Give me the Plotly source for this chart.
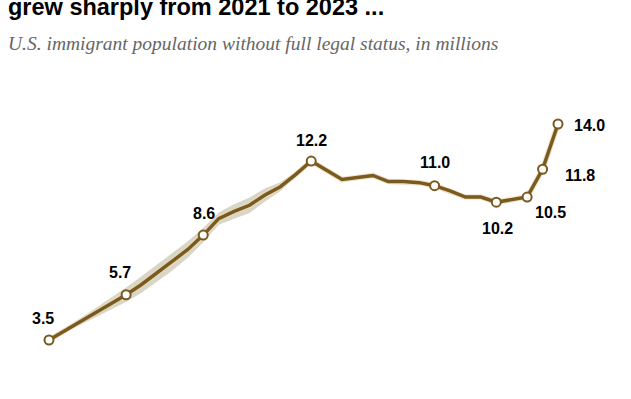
import plotly.graph_objects as go

years = [1990, 1995, 1996, 1997, 1998, 1999, 2000, 2001, 2002, 2003, 2004, 2005, 2006, 2007,
         2008, 2009, 2010, 2011, 2012, 2013, 2014, 2015, 2016, 2017, 2018, 2019, 2021, 2022, 2023]
values = [3.5, 5.7, 6.2, 6.75, 7.3, 7.9, 8.6, 9.4, 9.75, 10.05, 10.55, 10.95, 11.55, 12.2,
          11.75, 11.3, 11.4, 11.5, 11.2, 11.2, 11.15, 11.0, 10.75, 10.45, 10.45, 10.2, 10.45, 11.8, 14.0]
band_half = [0.03, 0.35, 0.4, 0.42, 0.42, 0.4, 0.35, 0.3, 0.35, 0.38, 0.32, 0.22, 0.1, 0.03,
             0.03, 0.03, 0.03, 0.03, 0.03, 0.03, 0.03, 0.03, 0.03, 0.03, 0.03, 0.03, 0.03, 0.03, 0.03]

label_years = [1990, 1995, 2000, 2007, 2015, 2019, 2021, 2022, 2023]
label_values = [3.5, 5.7, 8.6, 12.2, 11.0, 10.2, 10.5, 11.8, 14.0]
label_text = ["3.5", "5.7", "8.6", "12.2", "11.0", "10.2", "10.5", "11.8", "14.0"]
# label placement offsets (pixels)
label_dx = [-6, -6, 1, 0, 0, 1, 23, 37, 31]
label_dy = [-22, -22, -22, -21, -23, 26, 16, 6, 1]

title = "grew sharply from 2021 to 2023 ..."
subtitle = "U.S. immigrant population without full legal status, in millions"

BROWN = "#7a5a1f"

marker_vals = [values[years.index(y)] for y in label_years]

fig = go.Figure()

upper = [v + h for v, h in zip(values, band_half)]
lower = [v - h for v, h in zip(values, band_half)]
fig.add_trace(go.Scatter(
    x=years + years[::-1], y=upper + lower[::-1], fill="toself",
    fillcolor="rgba(205,200,178,0.75)", line=dict(width=0), mode="lines",
    hoverinfo="skip", showlegend=False))

fig.add_trace(go.Scatter(
    x=years, y=values, mode="lines",
    line=dict(color="rgba(232,220,190,0.8)", width=5.5),
    hoverinfo="skip", showlegend=False))

fig.add_trace(go.Scatter(
    x=years, y=values, mode="lines",
    line=dict(color=BROWN, width=3.5),
    showlegend=False))

fig.add_trace(go.Scatter(
    x=label_years, y=marker_vals, mode="markers",
    marker=dict(size=9, color="white", line=dict(color=BROWN, width=2)),
    showlegend=False))

for yr, v, t, dx, dy in zip(label_years, label_values, label_text, label_dx, label_dy):
    fig.add_annotation(x=yr, y=v, text="<b>" + t + "</b>", showarrow=False,
                       xshift=dx, yshift=-dy,
                       font=dict(family="Liberation Sans", size=16, color="black"),
                       xanchor="center", yanchor="middle")

fig.add_annotation(xref="paper", yref="paper", x=6 / 631, y=1 - 7 / 399, text="<b>" + title + "</b>",
                   showarrow=False, xanchor="left", yanchor="middle",
                   font=dict(family="Liberation Sans", size=23.5, color="black"))
fig.add_annotation(xref="paper", yref="paper", x=6 / 631, y=1 - 43 / 399, text="<i>" + subtitle + "</i>",
                   showarrow=False, xanchor="left", yanchor="middle",
                   font=dict(family="Liberation Serif", size=19.5, color="#666666"))

px_per_year = (558 - 49) / 33
px_per_unit = (340 - 124) / 10.5
x0 = 1990 - 49 / px_per_year
x1 = 2023 + (631 - 558) / px_per_year
y1 = 14.0 + 124 / px_per_unit
y0 = 3.5 - (399 - 340) / px_per_unit

fig.update_layout(
    width=631, height=399, autosize=False,
    margin=dict(l=0, r=0, t=0, b=0),
    paper_bgcolor="white", plot_bgcolor="white",
    xaxis=dict(range=[x0, x1], visible=False, fixedrange=True),
    yaxis=dict(range=[y0, y1], visible=False, fixedrange=True),
    showlegend=False,
)

fig.write_html("out.html", config={"displayModeBar": False},
               post_script="document.body.style.margin='0';document.body.style.padding='0';")
